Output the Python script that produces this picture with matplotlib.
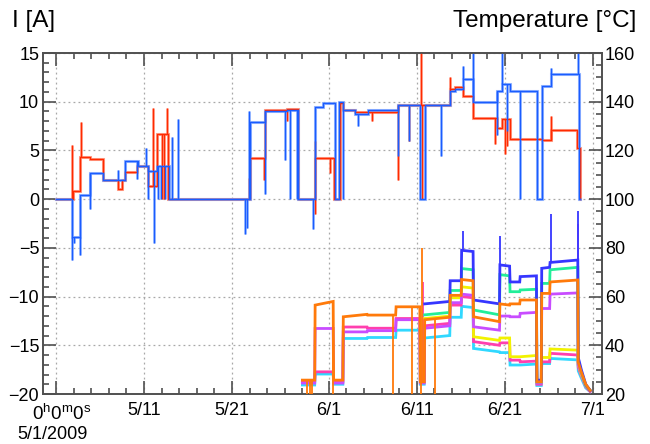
import numpy as np
import matplotlib
matplotlib.use('Agg')
import matplotlib.pyplot as plt
from matplotlib.ticker import FixedLocator, MultipleLocator

plt.rcParams['font.family'] = ['Liberation Sans', 'DejaVu Sans']
plt.rcParams['mathtext.fontset'] = 'custom'
plt.rcParams['mathtext.rm'] = 'Liberation Sans'

nan = np.nan

# ---------------- axis ticks (x in days since 5/1/2009) ----------------
tick_days = [0, 10, 20, 31, 41, 51, 61]
tick_labels = ['', '5/11', '5/21', '6/1', '6/11', '6/21', '7/1']
minor_days = [2, 4, 6, 8, 12, 14, 16, 18, 22, 24, 26, 28, 33, 35, 37, 39,
              43, 45, 47, 49, 53, 55, 57, 59]

# ---------------- currents [A] (left axis), step data ----------------
blue_days = [0.0, 1.8, 2.75, 3.85, 5.35, 7.84, 9.3, 10.45, 11.44, 12.8, 22.05,
             23.75, 26.2, 27.54, 29.47, 30.38, 31.7, 32.2, 32.65, 33.98, 35.49,
             38.9, 41.36, 41.93, 44.77, 45.34, 46.21, 47.35, 50.07, 50.64,
             51.59, 54.62, 55.19, 56.25, 59.45, 59.55]
blue_vals = [0.0, -3.9, 0.4, 2.7, 2.0, 3.9, 3.4, 2.9, 3.4, 0.0, 7.9,
             9.0, 9.2, 0.0, 9.5, 9.9, 0.0, 9.95, 9.1, 8.7, 9.1,
             9.7, 0.0, 9.7, 11.06, 11.3, 12.3, 9.95, 11.06, 11.8,
             11.06, 0.0, 11.6, 12.8, 0.0, 0.0]
blue_spike_days = [1.86, 2.1, 2.7, 3.86, 7.08, 9.2, 10.2, 10.4, 11.1, 11.6,
                   11.97, 12.35, 13.15, 13.9, 21.48, 21.67, 21.97, 23.8, 26.0,
                   26.6, 27.4, 29.24, 32.65, 34.35, 38.9, 40.1, 43.8, 46.3,
                   47.35, 50.1, 50.64, 51.2, 52.73, 56.25, 59.3]
blue_spike_vals = [-6.2, -4.5, -5.7, -1.0, 3.0, 2.1, 5.2, 0.0, -4.5, 0.0,
                   0.0, 0.0, 6.4, 8.2, -3.6, -3.0, 9.0, 0.5, 4.0,
                   0.0, 0.0, -3.1, 0.0, 7.5, 4.4, 6.0, 4.4, 13.7,
                   15.5, 6.6, 15.5, 7.0, 0.0, 13.5, 15.5]

red_days = [0.0, 1.95, 2.75, 3.86, 5.3, 7.08, 7.5, 7.84, 9.17, 10.45, 11.44,
            12.77, 22.05, 23.75, 26.2, 27.54, 29.47, 31.6, 32.27, 32.65, 33.98,
            35.49, 38.9, 41.93, 44.77, 45.34, 46.21, 47.35, 50.07, 50.64,
            51.59, 55.19, 56.25, 59.24, 59.55]
red_vals = [0.0, 0.8, 4.3, 4.1, 2.0, 1.0, 2.0, 2.8, 3.4, 1.3, 6.7,
            0.0, 4.2, 9.1, 9.3, 0.0, 4.2, 0.0, 9.9, 9.1, 8.9,
            8.9, 9.7, 9.7, 11.3, 11.5, 10.55, 8.3, 7.3, 8.2,
            6.2, 6.1, 7.1, 5.2, 0.0]
red_spike_days = [1.78, 2.8, 11.0, 12.0, 12.3, 12.6, 21.9, 23.6, 26.3, 29.4,
                  29.45, 31.1, 35.9, 38.9, 40.1, 41.5, 41.55, 44.8, 49.9, 51.0,
                  51.3, 56.2]
red_spike_vals = [5.6, 7.9, 9.4, 0.0, 0.0, 9.4, 2.2, 2.0, 8.0, 6.0,
                  -1.5, 2.7, 8.0, 2.0, 6.0, 15.5, 0.0, 12.5, 5.7, 4.6,
                  5.5, 8.5]

# ---------------- temperatures [degC] (right axis) ----------------
temp_days = [28.0, 29.4, 29.45, 31.5, 31.55, 32.6, 32.65, 35.35, 35.4, 38.6,
             38.65, 41.35, 41.4, 41.85, 41.9, 44.75, 44.8, 46.05, 46.1, 47.4,
             47.45, 50.4, 50.45, 51.55, 51.6, 52.7, 52.75, 54.6, 54.65, 55.15,
             55.2, 56.1, 56.15, 59.3, 59.35, 59.7, 60.2, 60.7]
temp_orange = [25.7, 25.7, 56.5, 58.0, 25.7, 25.7, 51.7, 52.7, 52.4, 52.4,
               55.8, 55.8, 25.0, 25.0, 50.5, 51.5, 60.5, 60.5, 67.0, 66.5,
               51.7, 49.7, 57.0, 56.5, 57.0, 57.0, 58.6, 58.6, 25.0, 25.0,
               61.3, 61.3, 66.0, 66.8, 33.0, 29.0, 24.0, 21.5]
temp_violet = [24.5, 24.5, 46.9, 46.9, 24.5, 24.5, 45.5, 45.5, 46.0, 46.0,
               50.5, 50.5, 24.5, 24.5, 47.0, 48.0, 57.5, 57.5, 61.0, 60.5,
               47.6, 46.2, 52.0, 52.0, 51.7, 51.7, 53.1, 53.5, 24.5, 24.5,
               55.1, 55.1, 61.0, 61.5, 32.0, 28.5, 23.5, 21.5]
temp_pink = [25.0, 25.0, 29.1, 29.1, 25.0, 25.0, 47.5, 47.5, 47.0, 47.0,
             51.0, 51.0, 25.0, 25.0, 48.0, 49.0, 56.5, 56.5, 60.0, 59.5,
             41.5, 40.0, 41.0, 41.0, 33.9, 33.9, 33.2, 33.5, 24.0, 24.0,
             33.2, 33.2, 36.7, 36.0, 31.0, 27.5, 23.0, 21.0]
temp_cyan = [23.7, 23.7, 28.2, 28.2, 24.0, 24.0, 42.8, 42.8, 43.2, 43.2,
             46.2, 46.2, 24.0, 24.0, 43.0, 44.0, 51.5, 51.5, 56.0, 55.5,
             38.7, 37.3, 37.0, 37.0, 31.9, 31.9, 31.9, 32.3, 23.5, 23.5,
             32.5, 32.5, 34.6, 34.0, 29.5, 26.5, 22.5, 21.0]
temp_blue = [nan] * 14 + [57.0, 58.0, 66.5, 66.5, 79.0, 78.5, 58.6, 57.0,
                          73.0, 72.5, 66.0, 66.0, 68.2, 68.5, 25.7, 25.7,
                          71.6, 72.0, 74.0, 75.0, 35.0, 30.0, 24.0, 21.5]
temp_green = [nan] * 14 + [52.5, 53.5, 62.5, 62.5, 71.5, 71.0, 54.5, 52.5,
                           69.0, 68.5, 62.0, 62.0, 62.7, 63.0, 25.0, 25.0,
                           65.4, 65.4, 71.0, 72.0, 34.0, 29.0, 23.5, 21.5]
temp_yellow = [nan] * 14 + [51.0, 52.0, 59.5, 59.5, 64.0, 63.5, 43.5, 42.0,
                            43.0, 43.0, 35.3, 35.3, 35.3, 35.8, 25.0, 25.0,
                            35.0, 35.0, 38.5, 38.0, 32.0, 28.0, 23.5, 21.5]
orange_spike_days = [28.5, 28.86, 29.1, 31.48, 38.3, 40.45, 41.45, 41.6, 43.07]
orange_spike_vals = [20, 20, 20, 20, 20, 20, 20, 80, 20]
blue_t_spike_days = [46.2, 50.45, 56.2, 59.33]
blue_t_spike_vals = [87, 85, 94, 95]
pink_spike_days = [41.7]
pink_spike_vals = [66]
violet_spike_days = [59.3]
violet_spike_vals = [90]

# ---------------- figure ----------------
fig = plt.figure(figsize=(6.5, 4.44), dpi=100)
ax = fig.add_axes([42.7 / 650, 50 / 444, (602 - 42.7) / 650, (394 - 53) / 444])
ax2 = ax.twinx()

frame_c = '#505050'
grid_c = '#a8a8a8'


def step_base(days, vals, at):
    days = np.asarray(days)
    vals = np.asarray(vals)
    idx = np.searchsorted(days, at, side='right') - 1
    return vals[np.clip(idx, 0, len(vals) - 1)]


def draw_current(days, vals, sdays, svals, light, dark):
    ax.step(days, vals, where='post', color=light, lw=2.2, alpha=0.8,
            solid_joinstyle='miter', zorder=2)
    base = step_base(days, vals, np.asarray(sdays))
    ax.vlines(sdays, base, svals, color=light, lw=2.0, alpha=0.8, zorder=2)
    ax.step(days, vals, where='post', color=dark, lw=1.0, zorder=3)
    ax.vlines(sdays, base, svals, color=dark, lw=0.9, zorder=3)


draw_current(red_days, red_vals, red_spike_days, red_spike_vals, '#ff8a70', '#ff2a00')
draw_current(blue_days, blue_vals, blue_spike_days, blue_spike_vals, '#80a8ff', '#1a5cff')

tdays = np.asarray(temp_days)
temp_series = [
    (temp_cyan, '#30d8ff', [], []),
    (temp_pink, '#ff3fae', pink_spike_days, pink_spike_vals),
    (temp_yellow, '#f2f200', [], []),
    (temp_violet, '#c84cff', violet_spike_days, violet_spike_vals),
    (temp_green, '#22ee99', [], []),
    (temp_blue, '#3636ff', blue_t_spike_days, blue_t_spike_vals),
    (temp_orange, '#ff7a0a', orange_spike_days, orange_spike_vals),
]
for vals, col, sd, sv in temp_series:
    v = np.asarray(vals, dtype=float)
    ax2.plot(tdays, v, color=col, lw=2.0, solid_joinstyle='miter', zorder=3)
    if sd:
        ok = ~np.isnan(v)
        base = np.interp(sd, tdays[ok], v[ok])
        ax2.vlines(sd, base, sv, color=col, lw=1.3, zorder=3)

# ---------------- axes styling ----------------
ax.set_xlim(-1.51, 62.05)
ax.set_ylim(-20, 15)
ax2.set_ylim(20, 160)

ax.xaxis.set_major_locator(FixedLocator(tick_days))
ax.set_xticklabels(tick_labels)
ax.xaxis.set_minor_locator(FixedLocator(minor_days))
ax.yaxis.set_major_locator(MultipleLocator(5))
ax.yaxis.set_minor_locator(MultipleLocator(1))
ax2.yaxis.set_major_locator(MultipleLocator(20))
ax2.yaxis.set_minor_locator(MultipleLocator(5))

ax.tick_params(axis='x', which='both', direction='in', top=True, bottom=True,
               color=frame_c, width=1.2, labelsize=13, pad=6)
ax.tick_params(axis='y', which='both', direction='in', left=True, right=False,
               color=frame_c, width=1.2, labelsize=13, pad=2.5)
ax2.tick_params(axis='y', which='both', direction='in', left=False, right=True,
                color=frame_c, width=1.2, labelsize=13, pad=2.2)
for a in (ax, ax2):
    a.tick_params(which='major', length=9.5)
    a.tick_params(which='minor', length=4.5)
    for s in a.spines.values():
        s.set_color(frame_c)
        s.set_linewidth(1.2)

ax.set_axisbelow(True)
ax.grid(True, which='major', color=grid_c, linestyle=(0, (1.5, 2.5)), lw=0.9)

# ROOT-style time offset label under the first tick
ax.text(0.6, -0.028, r'$\mathregular{0^{h}0^{m}0^{s}}$', transform=ax.get_xaxis_transform(),
        ha='center', va='top', fontsize=13.5)
ax.text(-0.45, -0.093, '5/1/2009', transform=ax.get_xaxis_transform(),
        ha='center', va='top', fontsize=13)

fig.text(12 / 650, 1 - 27 / 444, 'I [A]', ha='left', va='baseline', fontsize=17.5)
fig.text(636 / 650, 1 - 27 / 444, 'Temperature [°C]', ha='right', va='baseline', fontsize=17.5)

fig.savefig('out.png', dpi=100)
